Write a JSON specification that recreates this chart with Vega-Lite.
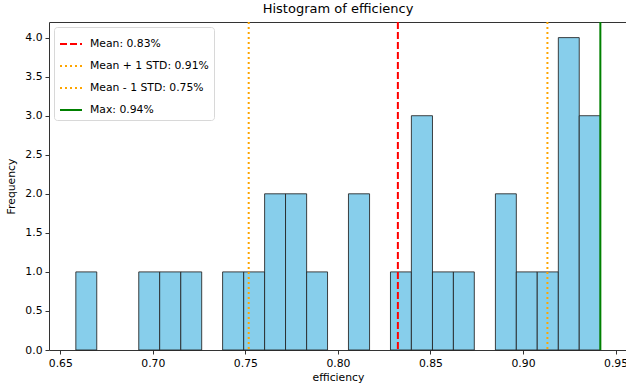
{
  "$schema": "https://vega.github.io/schema/vega-lite/v6.json",
  "width": 578,
  "height": 328,
  "autosize": "none",
  "padding": {"left": 49, "top": 22, "right": 0, "bottom": 37},
  "title": {"text": "Histogram of efficiency", "fontSize": 13, "fontWeight": "normal", "font": "DejaVu Sans", "color": "#000", "offset": 5},
  "config": {
    "font": "DejaVu Sans",
    "view": {"stroke": "#333", "strokeWidth": 1},
    "axis": {"grid": false, "domain": false, "tickColor": "#333", "tickSize": 4, "labelFontSize": 10.8, "labelColor": "#000", "titleFontSize": 10.8, "titleFontWeight": "normal", "titleColor": "#000", "labelFont": "DejaVu Sans", "titleFont": "DejaVu Sans", "labelPadding": 3},
    "legend": {"orient": "top-left", "offset": 5, "strokeColor": "#d8d8d8", "fillColor": "white", "cornerRadius": 3, "padding": 5, "labelFontSize": 10.8, "labelColor": "#000", "symbolType": "stroke", "symbolStrokeWidth": 2, "symbolSize": 484, "rowPadding": 5, "labelOffset": 7}
  },
  "datasets": {
    "bins": [
      {"bin_start": 0.6584, "bin_end": 0.6697, "count": 1},
      {"bin_start": 0.6697, "bin_end": 0.6811, "count": 0},
      {"bin_start": 0.6811, "bin_end": 0.6924, "count": 0},
      {"bin_start": 0.6924, "bin_end": 0.7037, "count": 1},
      {"bin_start": 0.7037, "bin_end": 0.7151, "count": 1},
      {"bin_start": 0.7151, "bin_end": 0.7264, "count": 1},
      {"bin_start": 0.7264, "bin_end": 0.7377, "count": 0},
      {"bin_start": 0.7377, "bin_end": 0.7491, "count": 1},
      {"bin_start": 0.7491, "bin_end": 0.7604, "count": 1},
      {"bin_start": 0.7604, "bin_end": 0.7717, "count": 2},
      {"bin_start": 0.7717, "bin_end": 0.7831, "count": 2},
      {"bin_start": 0.7831, "bin_end": 0.7944, "count": 1},
      {"bin_start": 0.7944, "bin_end": 0.8057, "count": 0},
      {"bin_start": 0.8057, "bin_end": 0.8171, "count": 2},
      {"bin_start": 0.8171, "bin_end": 0.8284, "count": 0},
      {"bin_start": 0.8284, "bin_end": 0.8397, "count": 1},
      {"bin_start": 0.8397, "bin_end": 0.8511, "count": 3},
      {"bin_start": 0.8511, "bin_end": 0.8624, "count": 1},
      {"bin_start": 0.8624, "bin_end": 0.8737, "count": 1},
      {"bin_start": 0.8737, "bin_end": 0.8851, "count": 0},
      {"bin_start": 0.8851, "bin_end": 0.8964, "count": 2},
      {"bin_start": 0.8964, "bin_end": 0.9077, "count": 1},
      {"bin_start": 0.9077, "bin_end": 0.9191, "count": 1},
      {"bin_start": 0.9191, "bin_end": 0.9304, "count": 4},
      {"bin_start": 0.9304, "bin_end": 0.9418, "count": 3}
    ],
    "lines": [
      {"label": "Mean: 0.83%", "value": 0.8324},
      {"label": "Mean + 1 STD: 0.91%", "value": 0.9132},
      {"label": "Mean - 1 STD: 0.75%", "value": 0.7518},
      {"label": "Max: 0.94%", "value": 0.9418}
    ]
  },
  "layer": [
    {
      "data": {"name": "bins"},
      "transform": [{"filter": "datum.count > 0"}],
      "mark": {"type": "rect", "fill": "#87CEEB", "stroke": "#222", "strokeWidth": 1, "strokeOpacity": 0.85},
      "encoding": {
        "x": {"field": "bin_start", "type": "quantitative", "scale": {"domain": [0.6439, 0.9562], "nice": false, "zero": false}, "axis": {"values": [0.65, 0.7, 0.75, 0.8, 0.85, 0.9, 0.95], "format": ".2f", "title": "efficiency", "titlePadding": 4}},
        "x2": {"field": "bin_end"},
        "y": {"field": "count", "type": "quantitative", "scale": {"domain": [0, 4.2], "nice": false}, "axis": {"values": [0, 0.5, 1, 1.5, 2, 2.5, 3, 3.5, 4], "format": ".1f", "title": "Frequency", "titlePadding": 8}},
        "y2": {"datum": 0}
      }
    },
    {
      "data": {"name": "lines"},
      "mark": {"type": "rule", "strokeWidth": 2},
      "encoding": {
        "x": {"field": "value", "type": "quantitative"},
        "color": {"field": "label", "type": "nominal", "scale": {"domain": ["Mean: 0.83%", "Mean + 1 STD: 0.91%", "Mean - 1 STD: 0.75%", "Max: 0.94%"], "range": ["#ff0000", "#ffa500", "#ffa500", "#008000"]}, "legend": {"title": null}},
        "strokeDash": {"field": "label", "type": "nominal", "scale": {"domain": ["Mean: 0.83%", "Mean + 1 STD: 0.91%", "Mean - 1 STD: 0.75%", "Max: 0.94%"], "range": [[7, 3], [2, 3], [2, 3], [1, 0]]}, "legend": {"title": null}}
      }
    }
  ]
}
